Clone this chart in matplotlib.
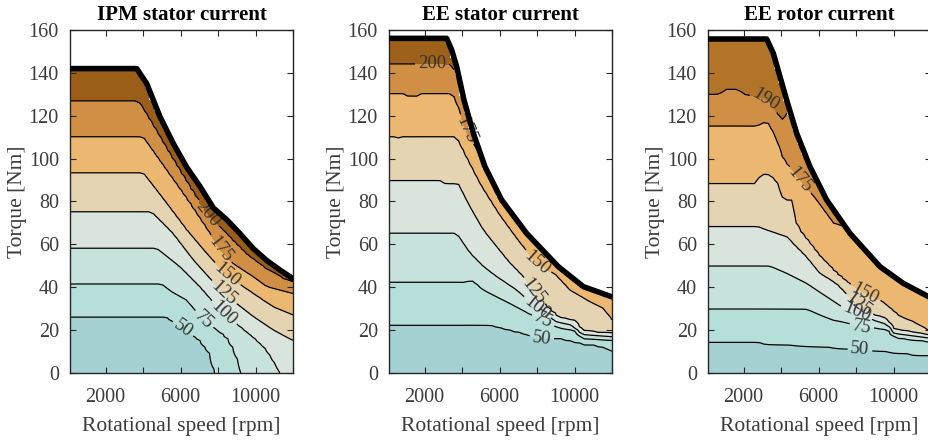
import numpy as np
import matplotlib
matplotlib.use('Agg')
from matplotlib import pyplot as plt

plt.rcParams['font.family'] = ['Liberation Serif', 'DejaVu Serif']

titles = ['IPM stator current', 'EE stator current', 'EE rotor current']

# ---- IPM stator current ----
ipm_levels = [50, 75, 100, 125, 150, 175, 200]
ipm_env_s = [100, 3660, 4193, 4903, 5614, 6326, 7037, 7748, 8462, 9172, 9882, 10596, 11307, 12000]
ipm_env_t = [142, 142, 135, 119.5, 107, 96, 87, 77, 71.5, 65, 58, 52.5, 48, 44]
ipm_lines = [
    ([100, 5259, 6148, 7037, 7571, 7838, 8200], [26.2, 26.2, 20.8, 15.4, 9.2, 0, -30]),
    ([100, 4992, 5500, 6326, 7215, 8460, 8800, 9100, 9250, 9600], [41.5, 41.5, 38, 34, 24.7, 17, 12, 5, 0, -20]),
    ([100, 4725, 5970, 7037, 8283, 9884, 10600, 11000, 11300, 11700], [58.2, 58.2, 49.6, 40.3, 27.8, 17, 11, 5, 0, -10]),
    ([100, 4458, 5614, 6682, 8283, 9884, 10951, 12000], [75.2, 75.2, 65.1, 52.7, 37.2, 26.3, 20.1, 15.4]),
    ([100, 4013, 5259, 6326, 7393, 8460, 9884, 10951, 12000], [93.4, 93.4, 79.1, 66.7, 55.8, 45.7, 37.2, 30.9, 27.1]),
    ([100, 4013, 5259, 6326, 7393, 8105, 8800, 9884, 10595, 12000], [110.2, 110.2, 95, 82, 68, 57.5, 51, 44.9, 40.3, 37.2]),
    ([100, 3750, 4500, 5500, 6500, 7400, 8500, 9500, 10500, 11500, 12000], [126.9, 126.9, 116, 101, 86.5, 74, 64.5, 55.5, 49, 44, 42.3]),
]
ipm_label_pos = [(7400, 74), (8105, 57.5), (8460, 45.7), (8283, 37.2), (8283, 27.8), (7215, 24.7), (6148, 20.8)]

# ---- EE stator current ----
ees_levels = [50, 75, 100, 125, 150, 175, 200]
ees_env_s = [100, 3177, 3444, 3711, 4102, 4600, 5223, 6112, 7447, 9136, 10470, 12000]
ees_env_t = [156.1, 156.1, 150.7, 142.9, 127.3, 111.8, 96.2, 80.7, 65.1, 49.6, 40.3, 35.5]
ees_lines = [
    ([100, 5490, 6557, 7269, 8248, 9400, 10470, 11180, 12000], [22.5, 22.5, 20.1, 18.5, 16.2, 16, 13.8, 13.1, 10.7]),
    ([100, 4200, 4450, 4700, 5134, 6557, 7500, 8337, 9200, 10000, 10400, 12000], [42.3, 42.3, 43.4, 42.3, 38.7, 32.5, 28, 24.7, 21, 20, 16, 15.4]),
    ([100, 3711, 4423, 5134, 5846, 6913, 7982, 9000, 9800, 10400, 12000], [65.2, 65.2, 55.8, 49.6, 44.9, 38.7, 30.2, 24, 22.4, 18, 16.9]),
    ([100, 2820, 3100, 3800, 4423, 5134, 5846, 6557, 7269, 7802, 8500, 9200, 10000, 10400, 12000], [89.8, 89.8, 88.3, 88.3, 77.6, 66.7, 58.9, 51.2, 44.9, 37.9, 31, 25.6, 24.5, 19.5, 18.5]),
    ([100, 550, 690, 830, 3711, 4300, 5000, 6000, 7000, 7982, 9049, 9759, 10826, 11536, 12000], [110.2, 110.2, 108.5, 110.2, 110.2, 100, 88, 74, 62, 51.2, 45.7, 38.7, 33.3, 30.2, 24.7]),
    ([100, 900, 1100, 1600, 1800, 3500, 3900, 4155, 4600, 5000, 6000, 8000, 12000], [130.4, 130.4, 129.2, 129.2, 130.4, 130.4, 122, 113, 107, 101, 86, 61, 38]),
    ([100, 3300, 3600, 3800, 4500, 6000, 12000], [144.1, 144.1, 141, 137, 125, 95, 50]),
]
ees_label_pos = [(2400, 144.1), (4155, 113), (7982, 51.2), (7802, 37.9), (7982, 30.2), (8337, 24.7), (8248, 16.2)]

# ---- EE rotor current ----
eer_levels = [50, 75, 100, 125, 150, 175, 190]
eer_env_s = [100, 3231, 3586, 3942, 4298, 4832, 5543, 6433, 7678, 9279, 10524, 12000]
eer_env_t = [155.8, 155.8, 149.1, 138.2, 127.3, 111.8, 96.2, 80.7, 65.1, 49.6, 41.8, 35]
eer_lines = [
    ([100, 2768, 3140, 6077, 8212, 8923, 10524, 11413, 12000], [14.6, 14.6, 13.6, 12.3, 11, 10.7, 9.2, 8.4, 8.4]),
    ([100, 5365, 6077, 6788, 7500, 8303, 9000, 9700, 10100, 12000], [29.8, 29.8, 27.1, 24.7, 23.5, 21.6, 21, 20.5, 16.5, 14.6]),
    ([100, 3409, 4298, 5365, 6433, 7500, 8036, 9000, 9700, 10000, 12000], [49.9, 49.9, 46.5, 41.8, 35.6, 29.4, 28.6, 24.5, 22.5, 18.5, 16.2]),
    ([100, 2768, 3200, 4298, 5365, 6077, 6966, 8122, 9000, 9600, 10000, 12000], [68.3, 68.3, 66.7, 63.6, 54.3, 46.5, 41.8, 31.3, 27, 25.5, 20.5, 17.7]),
    ([100, 2697, 2900, 3300, 3764, 4120, 4654, 4832, 5400, 6077, 6966, 7700, 8478, 9279, 10346, 11057, 11768, 12000],
     [88.3, 88.3, 92.7, 92.7, 90, 80.7, 80.7, 68.3, 62, 54.3, 46.5, 41, 37.2, 34, 26.3, 23.9, 20, 19.5]),
    ([100, 2768, 2950, 3300, 3450, 3764, 4120, 5010, 5899, 6788, 7500, 9000, 12000], [115.2, 115.2, 116.8, 116.8, 115, 108.7, 99.3, 90, 80.7, 70, 68, 54, 38]),
    ([100, 740, 1007, 1719, 2000, 3231, 3700, 4100, 4500, 5000, 6000, 8000, 12000], [130, 130, 132.3, 132.3, 130, 128, 122, 118, 124, 113, 96, 71, 45]),
]
eer_label_pos = [(3231, 128), (5010, 90), (8478, 37.2), (8122, 31.3), (8036, 28.6), (8303, 21.6), (8212, 11)]

band_colors = ['#a6d1d3', '#b5dfd8', '#c8e3dc', '#d8e4dc', '#e4d4b2', '#ecb871', '#d18f45']
top_colors = ['#9b5e18', '#9e611a', '#b27428']

panels = [
    (ipm_levels, ipm_env_s, ipm_env_t, ipm_lines, ipm_label_pos),
    (ees_levels, ees_env_s, ees_env_t, ees_lines, ees_label_pos),
    (eer_levels, eer_env_s, eer_env_t, eer_lines, eer_label_pos),
]

# operating grid (rpm x Nm)
speed = np.linspace(100, 12000, 49)
torque = np.arange(0, 160.5, 1.0)


def build_field(levels, env_s, env_t, lines):
    # current map: interpolate between the read contour lines column by column
    Z = np.zeros((len(torque), len(speed)))
    env = np.interp(speed, env_s, env_t)
    for j, s in enumerate(speed):
        tt = [np.interp(s, ls, lt) for ls, lt in lines]
        xp = [-100] + tt + [env[j] + 40]
        fp = [0] + list(levels) + [levels[-1] + 50]
        Z[:, j] = np.interp(torque, xp, fp)
    mask = torque[:, None] > env[None, :]
    return np.ma.array(Z, mask=mask)


W, H = 929, 442
fig = plt.figure(figsize=(W / 100, H / 100), dpi=100)
lefts = [70, 389, 708]
grey = '#3c3c3c'

for k, (levels, env_s, env_t, lines, label_pos) in enumerate(panels):
    ax = fig.add_axes([lefts[k] / W, 69 / H, 223 / W, 343 / H])
    Z = build_field(levels, env_s, env_t, lines)
    fill_levels = [0] + list(levels) + [400]
    ax.contourf(speed, torque, Z, levels=fill_levels,
                colors=band_colors + [top_colors[k]])
    cs = ax.contour(speed, torque, Z, levels=levels, colors='k', linewidths=0.9)
    ax.clabel(cs, fmt='%d', fontsize=13.5, colors='#333333', inline=True,
              inline_spacing=3, manual=label_pos)
    ax.plot(env_s, env_t, color='k', lw=4, zorder=5)

    ax.set_xlim(100, 12000)
    ax.set_ylim(0, 160)
    ax.set_xticks([2000, 4000, 6000, 8000, 10000, 12000])
    ax.set_xticklabels(['2000', '', '6000', '', '10000', ''])
    ax.set_yticks(range(0, 161, 20))
    ax.tick_params(direction='in', length=4, width=0.8, top=True, right=True,
                   labelsize=14.5, labelcolor=grey, color='#262626')
    ax.tick_params(axis='x', pad=11)
    ax.tick_params(axis='y', pad=8)
    for sp in ax.spines.values():
        sp.set_color('#262626')
        sp.set_linewidth(1.0)
    ax.set_xlabel('Rotational speed [rpm]', fontsize=15.5, color=grey, labelpad=7)
    ax.set_ylabel('Torque [Nm]', fontsize=15.5, color=grey, labelpad=1)
    ax.set_title(titles[k], fontsize=15, fontweight='bold', pad=7)

fig.savefig('out.png', dpi=100)
